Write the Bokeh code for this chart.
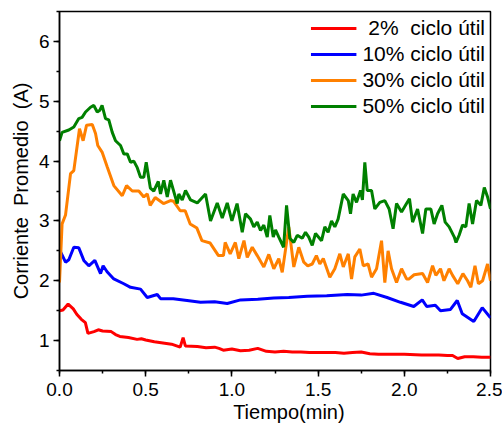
from bokeh.plotting import figure
from bokeh.models import Range1d, SingleIntervalTicker, PrintfTickFormatter, Legend, LegendItem
from bokeh.embed import file_html
from bokeh.resources import INLINE

# 2% ciclo útil
t_2 = [0, 0.02, 0.05, 0.08, 0.1, 0.125, 0.15, 0.165, 0.2, 0.225, 0.25, 0.3, 0.325, 0.35, 0.4, 0.45, 0.475, 0.5, 0.55, 0.6,
       0.65, 0.7, 0.717, 0.73, 0.8, 0.85, 0.9, 0.925, 0.95, 1.0, 1.05, 1.1, 1.15, 1.2, 1.25, 1.3, 1.35, 1.4, 1.45, 1.5,
       1.55, 1.6, 1.65, 1.7, 1.75, 1.8, 1.85, 1.9, 2.0, 2.1, 2.2, 2.25, 2.28, 2.31, 2.35, 2.4, 2.45, 2.5]
i_2 = [1.50, 1.51, 1.61, 1.53, 1.44, 1.36, 1.30, 1.12, 1.15, 1.18, 1.16, 1.15, 1.10, 1.07, 1.05, 1.02, 1.03, 1.01, 0.98, 0.96,
       0.94, 0.89, 1.05, 0.91, 0.90, 0.88, 0.89, 0.87, 0.84, 0.86, 0.83, 0.84, 0.87, 0.82, 0.81, 0.82, 0.81, 0.81, 0.80, 0.80,
       0.80, 0.80, 0.79, 0.80, 0.81, 0.78, 0.77, 0.77, 0.77, 0.76, 0.76, 0.75, 0.75, 0.70, 0.73, 0.73, 0.72, 0.72]

# 10% ciclo útil
t_10 = [0, 0.035, 0.054, 0.083, 0.112, 0.141, 0.17, 0.205, 0.238, 0.253, 0.276, 0.315, 0.373, 0.412, 0.47,
        0.509, 0.567, 0.586, 0.66, 0.74, 0.818, 0.9, 0.973, 1.05, 1.15, 1.243, 1.33, 1.437, 1.55, 1.669,
        1.75, 1.823, 1.9, 1.978, 2.055, 2.104, 2.13, 2.18, 2.21, 2.268, 2.307, 2.336, 2.403, 2.452, 2.5]
i_10 = [2.52, 2.31, 2.35, 2.56, 2.55, 2.34, 2.25, 2.34, 2.12, 2.25, 2.15, 2.03, 1.95, 1.89, 1.86,
        1.72, 1.77, 1.70, 1.70, 1.67, 1.64, 1.65, 1.62, 1.68, 1.69, 1.71, 1.72, 1.74, 1.75, 1.77,
        1.76, 1.79, 1.72, 1.64, 1.57, 1.68, 1.57, 1.59, 1.50, 1.52, 1.67, 1.45, 1.32, 1.55, 1.38]

# 30% ciclo útil
t_30 = [0, 0.015, 0.035, 0.064, 0.083, 0.116, 0.137, 0.157, 0.19, 0.209, 0.222, 0.247, 0.277, 0.315, 0.364, 0.389,
        0.422, 0.46, 0.489, 0.509, 0.526, 0.555, 0.603, 0.644, 0.661, 0.70, 0.729, 0.758, 0.797, 0.826, 0.874, 0.922,
        0.951, 0.961, 0.99, 1.02, 1.04, 1.07, 1.089, 1.118, 1.147, 1.185, 1.214, 1.243, 1.272, 1.292, 1.33, 1.359,
        1.388, 1.417, 1.44, 1.466, 1.49, 1.51, 1.53, 1.568, 1.597, 1.626, 1.646, 1.675, 1.694, 1.713, 1.742, 1.762,
        1.79, 1.81, 1.839, 1.868, 1.887, 1.906, 1.926, 1.955, 1.984, 2.013, 2.028, 2.057, 2.106, 2.135, 2.164, 2.183,
        2.21, 2.23, 2.26, 2.28, 2.31, 2.34, 2.367, 2.386, 2.41, 2.43, 2.454, 2.483, 2.5]
i_30 = [1.97, 2.95, 3.10, 3.79, 3.84, 4.54, 4.34, 4.60, 4.61, 4.46, 4.26, 4.15, 3.90, 3.59, 3.42, 3.59,
        3.50, 3.50, 3.40, 3.45, 3.26, 3.39, 3.29, 3.34, 3.33, 3.17, 3.17, 2.95, 2.88, 2.67, 2.63, 2.42,
        2.42, 2.64, 2.45, 2.64, 2.37, 2.67, 2.39, 2.56, 2.42, 2.23, 2.44, 2.20, 2.37, 2.14, 2.90, 2.23,
        2.56, 2.31, 2.25, 2.28, 2.42, 2.28, 2.37, 2.06, 2.20, 2.45, 2.23, 2.45, 2.03, 2.40, 2.53, 2.25,
        2.28, 2.06, 2.20, 2.67, 1.97, 2.50, 2.20, 1.97, 2.20, 2.03, 2.03, 2.10, 2.12, 1.97, 2.25, 2.09,
        2.20, 2.00, 2.20, 2.09, 1.95, 2.12, 2.00, 1.89, 2.25, 1.95, 2.00, 2.28, 2.00]

# 50% ciclo útil
t_50 = [0, 0.015, 0.054, 0.083, 0.112, 0.131, 0.151, 0.18, 0.199, 0.219, 0.234, 0.247, 0.267, 0.286, 0.306, 0.325,
        0.354, 0.373, 0.393, 0.412, 0.431, 0.451, 0.47, 0.489, 0.503, 0.527, 0.547, 0.573, 0.586, 0.605, 0.625, 0.644,
        0.683, 0.692, 0.712, 0.731, 0.76, 0.799, 0.847, 0.876, 0.915, 0.944, 0.973, 1.0, 1.03, 1.06, 1.079, 1.108,
        1.127, 1.147, 1.166, 1.185, 1.205, 1.22, 1.24, 1.253, 1.272, 1.30, 1.317, 1.336, 1.359, 1.379, 1.408, 1.427,
        1.446, 1.466, 1.485, 1.52, 1.539, 1.558, 1.578, 1.597, 1.616, 1.646, 1.675, 1.688, 1.703, 1.723, 1.746, 1.757,
        1.771, 1.785, 1.81, 1.829, 1.858, 1.887, 1.912, 1.935, 1.955, 1.984, 2.013, 2.03, 2.048, 2.077, 2.106, 2.125,
        2.154, 2.173, 2.193, 2.218, 2.237, 2.26, 2.29, 2.30, 2.318, 2.338, 2.357, 2.376, 2.396, 2.419, 2.444, 2.464,
        2.483, 2.5]
i_50 = [4.34, 4.48, 4.52, 4.57, 4.71, 4.73, 4.82, 4.90, 4.93, 4.82, 4.85, 4.93, 4.71, 4.69, 4.48, 4.34,
        4.26, 4.12, 4.12, 3.98, 4.00, 3.89, 3.73, 3.73, 3.98, 3.55, 3.50, 3.66, 3.45, 3.68, 3.40, 3.68,
        3.29, 3.45, 3.35, 3.51, 3.35, 3.30, 3.45, 3.00, 3.30, 3.05, 3.30, 3.00, 3.29, 2.81, 3.12, 3.03,
        2.90, 2.98, 2.84, 2.93, 2.73, 3.09, 2.73, 2.85, 2.73, 2.56, 3.26, 2.71, 2.64, 2.76, 2.71, 2.81,
        2.73, 2.59, 2.79, 2.67, 2.90, 2.81, 3.00, 2.90, 3.03, 3.45, 3.34, 3.12, 3.45, 3.31, 3.51, 3.35,
        3.98, 3.51, 3.51, 3.20, 3.31, 3.34, 3.20, 2.87, 3.29, 3.15, 3.29, 3.37, 2.98, 3.20, 2.79, 3.20,
        3.20, 2.95, 3.12, 3.26, 2.98, 2.90, 2.73, 2.64, 2.76, 2.93, 2.90, 3.29, 2.95, 3.34, 3.26, 3.56,
        3.40, 3.20]

labels = ["\u00a02%\u00a0\u00a0ciclo útil", "10% ciclo útil", "30% ciclo útil", "50% ciclo útil"]
colors = ["#ff0000", "#0000ff", "#ff8000", "#008000"]
series = [(t_2, i_2), (t_10, i_10), (t_30, i_30), (t_50, i_50)]

FONT = "Liberation Sans"

p = figure(width=502, height=426, output_backend="svg", toolbar_location=None,
           x_range=Range1d(0, 2.5), y_range=Range1d(0.5, 6.5),
           min_border_left=59, min_border_right=12, min_border_top=11, min_border_bottom=56)
p.xgrid.visible = False
p.ygrid.visible = False
p.outline_line_color = "black"
p.outline_line_width = 1.5
p.outline_line_alpha = 1

items = []
for (t, v), c, lab in zip(series, colors, labels):
    r = p.line(t, v, line_color=c, line_width=3)
    items.append(LegendItem(label=lab, renderers=[r]))

legend = Legend(items=items, location="top_right")
legend.border_line_alpha = 0
legend.background_fill_alpha = 0
legend.label_text_font = FONT
legend.label_text_font_size = "21px"
legend.label_text_color = "black"
legend.glyph_width = 46
legend.label_standoff = 6
legend.spacing = 2
legend.padding = 3
legend.margin = 2
p.add_layout(legend)

for ax in (p.xaxis[0], p.yaxis[0]):
    ax.axis_line_width = 1.5
    ax.major_tick_line_width = 1.5
    ax.minor_tick_line_width = 1.5
    ax.major_tick_in = 0
    ax.major_tick_out = 6
    ax.minor_tick_in = 0
    ax.minor_tick_out = 3
    ax.major_label_text_font = FONT
    ax.major_label_text_font_size = "19px"
    ax.major_label_text_color = "black"
    ax.axis_label_text_font = FONT
    ax.axis_label_text_font_size = "20px"
    ax.axis_label_text_font_style = "normal"
    ax.axis_label_text_color = "black"

p.xaxis.ticker = SingleIntervalTicker(interval=0.5, num_minor_ticks=2)
p.yaxis.ticker = SingleIntervalTicker(interval=1, num_minor_ticks=2)
p.xaxis.formatter = PrintfTickFormatter(format="%.1f")
p.xaxis.major_label_standoff = 6
p.yaxis.major_label_standoff = 4
p.xaxis.axis_label = "\u00a0" * 5 + "Tiempo(min)"
p.yaxis.axis_label = "Corriente\u00a0 Promedio\u00a0 (A)"
p.xaxis.axis_label_standoff = 2
p.yaxis.axis_label_standoff = 4

open("out.html", "w").write(file_html(p, INLINE))
